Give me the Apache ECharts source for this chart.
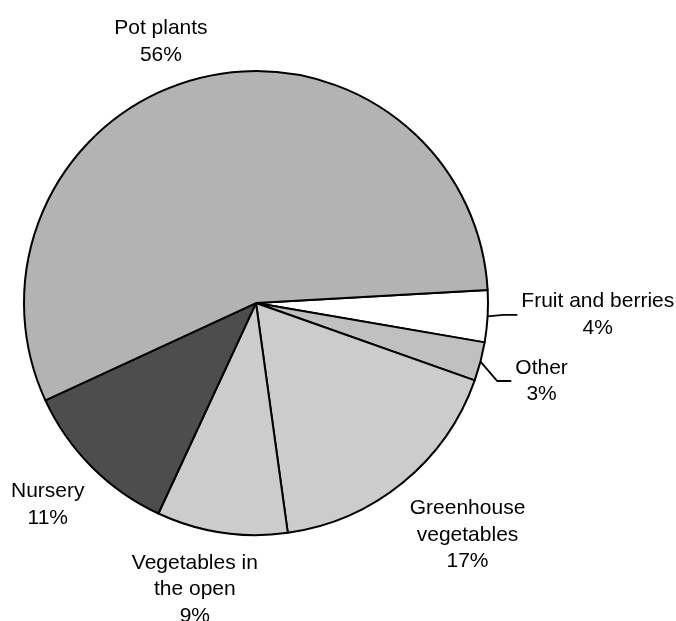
<!DOCTYPE html>
<html>
<head>
<meta charset="UTF-8">
<title>Pie</title>
<script src="https://cdn.jsdelivr.net/npm/echarts@6/dist/echarts.min.js"></script>
</head>
<body style="margin:0;background:#fff;">

<div id="box" style="width:676px;height:621px;"></div>

<script type="text/javascript">
// data, clockwise from 3 o'clock
var categories = ['Fruit and berries', 'Other', 'Greenhouse\nvegetables', 'Vegetables in\nthe open', 'Nursery', 'Pot plants'];
var values = [3.6, 2.7, 17.4, 9.1, 11.2, 56.0];
var colors = ['#ffffff', '#c0c0c0', '#cccccc', '#cccccc', '#4d4d4d', '#b3b3b3'];
var hasLeader = [true, true, false, false, false, false];

// label placement: gap beyond the rim and angle nudge from slice middle
var labelGap = [110, 64, 82, 61, 58, 46];
var labelNudge = [1.3, -0.65, 3.15, -3.55, -0.85, 6];

var startAngle = 3.2;
var R = 232;

var mychart = echarts.init(document.getElementById('box'));

var total = values.reduce(function (a, b) { return a + b; }, 0);
function midAngle(i) {
  var acc = 0;
  for (var k = 0; k < i; k++) acc += values[k];
  return startAngle - (acc + values[i] / 2) / total * 360;
}

var data = categories.map(function (name, i) {
  return {
    name: name,
    value: values[i],
    itemStyle: { color: colors[i] },
    labelLine: { show: hasLeader[i] }
  };
});

var option = {
  animation: false,
  series: [{
    type: 'pie',
    center: ['37.87%', '48.8%'],
    radius: R,
    startAngle: startAngle,
    clockwise: true,
    avoidLabelOverlap: false,
    data: data,
    itemStyle: { borderColor: '#000', borderWidth: 2 },
    emphasis: { disabled: true },
    label: {
      show: true,
      position: 'outside',
      formatter: function (p) {
        var lines = p.name.split('\n');
        lines.push(Math.round(p.percent) + '%');
        return lines.map(function (s) { return '{c|' + s + '}'; }).join('\n');
      },
      rich: {
        c: {
          align: 'center',
          fontFamily: '"Liberation Sans", Arial, sans-serif',
          fontSize: 21,
          lineHeight: 26.5,
          color: '#000'
        }
      }
    },
    labelLine: { lineStyle: { color: '#000', width: 1.8 } },
    labelLayout: function (p) {
      var i = p.dataIndex;
      var cx = mychart.getWidth() * 0.3787;
      var cy = mychart.getHeight() * 0.488;
      var m = midAngle(i) * Math.PI / 180;
      var a = (midAngle(i) + labelNudge[i]) * Math.PI / 180;
      var d = R + labelGap[i];
      var x = cx + d * Math.cos(a);
      var y = cy - d * Math.sin(a);
      var res = { x: x, y: y, align: 'center', verticalAlign: 'middle' };
      if (hasLeader[i]) {
        var p1 = [cx + R * Math.cos(m), cy - R * Math.sin(m)];
        var p3 = [x - p.labelRect.width / 2 - 4, y];
        var p2 = [Math.max(p1[0], p3[0] - 14), y];
        res.labelLinePoints = [p1, p2, p3];
      }
      return res;
    }
  }]
};

mychart.setOption(option);
</script>
</body>
</html>
